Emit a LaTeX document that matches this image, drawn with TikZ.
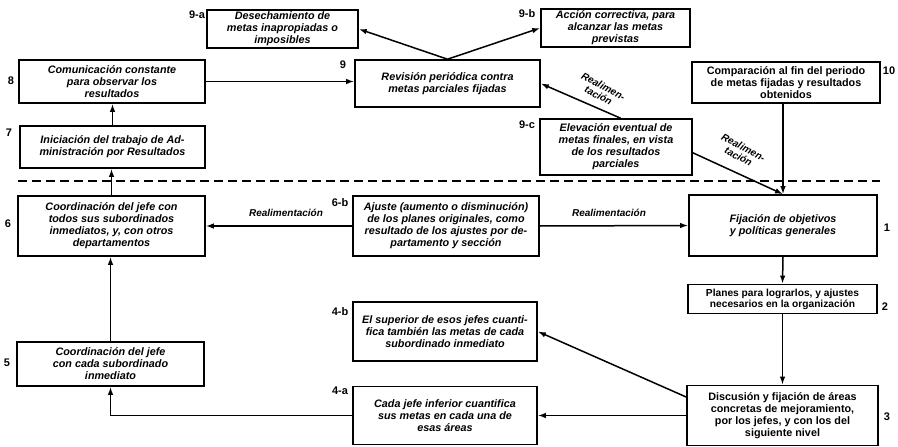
\documentclass[tikz,border=0pt]{standalone}
\usepackage{fontspec}
\setmainfont{Liberation Sans}
\usetikzlibrary{arrows.meta,calc}

\begin{document}
\begin{tikzpicture}[x=1pt,y=-1pt,
  box/.style={draw, line width=1.6pt, inner sep=1pt, align=center,
    font=\fontsize{10.8}{12}\selectfont\bfseries\itshape},
  uprbox/.style={box, font=\fontsize{10.8}{12}\selectfont\bfseries},
  num/.style={font=\fontsize{11}{12}\selectfont\bfseries, inner sep=0pt},
  conn/.style={line width=1.5pt},
  arr/.style={conn, -{Latex[length=8pt,width=5.5pt]}},
  fb/.style={font=\fontsize{10}{10.5}\selectfont\bfseries\itshape, inner sep=1pt, align=center}]

\useasboundingbox (0,0) rectangle (898,447);

% upper zone: follow-up stages
\node[box, minimum width=151pt, minimum height=38pt] (n9a) at (282.5,29)
  {Desechamiento de\\metas inapropiadas o\\imposibles};
\node[box, minimum width=149pt, minimum height=38pt] (n9b) at (615.5,28)
  {Acción correctiva, para\\alcanzar las metas\\previstas};
\node[box, minimum width=186pt, minimum height=43pt] (n8) at (112,81.5)
  {Comunicación constante\\para observar los\\resultados};
\node[box, minimum width=185pt, minimum height=47pt] (n9) at (447.5,83.5)
  {Revisión periódica contra\\metas parciales fijadas};
\node[uprbox, minimum width=188pt, minimum height=41pt] (n10) at (786,82.5)
  {Comparación al fin del periodo\\de metas fijadas y resultados\\obtenidos};
\node[box, minimum width=185pt, minimum height=42pt] (n7) at (112.5,147)
  {Iniciación del trabajo de Ad-\\ministración por Resultados};
\node[box, minimum width=152pt, minimum height=56pt] (n9c) at (616,147)
  {Elevación eventual de\\metas finales, en vista\\de los resultados\\parciales};

% lower zone: planning stages
\node[box, minimum width=187pt, minimum height=60pt] (n6) at (111.5,226)
  {Coordinación del jefe con\\todos sus subordinados\\inmediatos, y, con otros\\departamentos};
\node[box, minimum width=186pt, minimum height=60pt] (n6b) at (446,226)
  {Ajuste (aumento o disminución)\\de los planes originales, como\\resultado de los ajustes por de-\\partamento y sección};
\node[box, minimum width=188pt, minimum height=61pt] (n1) at (783,225.5)
  {Fijación de objetivos\\y políticas generales};
\node[uprbox, minimum width=189pt, minimum height=29pt, inner sep=0pt,
  font=\fontsize{10.2}{10.8}\selectfont\bfseries] (n2) at (782.5,299)
  {Planes para lograrlos, y ajustes\\necesarios en la organización};
\node[box, minimum width=184pt, minimum height=59pt] (n4b) at (445,331.5)
  {El superior de esos jefes cuanti-\\fica también las metas de cada\\subordinado inmediato};
\node[box, minimum width=184pt, minimum height=58pt] (n4a) at (445,415.5)
  {Cada jefe inferior cuantifica\\sus metas en cada una de\\esas áreas};
\node[box, minimum width=187pt, minimum height=44pt] (n5) at (110.5,364)
  {Coordinación del jefe\\con cada subordinado\\inmediato};
\node[uprbox, minimum width=191pt, minimum height=60pt] (n3) at (782.5,415.5)
  {Discusión y fijación de áreas\\concretas de mejoramiento,\\por los jefes, y con los del\\siguiente nivel};

% stage numbers
\node[num] (l9a) at (197,15) {9-a};
\node[num] (l9b) at (527,14) {9-b};
\node[num] (l8) at (11,81) {8};
\node[num] (l9) at (343,65) {9};
\node[num] (l10) at (889,71) {10};
\node[num] (l7) at (9,133) {7};
\node[num] (l9c) at (527,125) {9-c};
\node[num] (l6) at (8,224) {6};
\node[num] (l6b) at (340,203) {6-b};
\node[num] (l1) at (887,228) {1};
\node[num] (l2) at (885,307) {2};
\node[num] (l4b) at (340,312) {4-b};
\node[num] (l4a) at (340,391) {4-a};
\node[num] (l5) at (7,363) {5};
\node[num] (l3) at (887,417) {3};

% boundary between planning and follow-up
\coordinate (dl) at (18,181);
\coordinate (dr) at (880,181);
\draw[line width=1.5pt, dash pattern=on 9pt off 5pt] (dl) -- (dr);

% main flow
\draw[arr] (n1.north |- n10.south) -- (n1.north);
\draw[arr] (n1.south) -- (n2.north);
\draw[arr] (n2.south) -- (n3.north);
\draw[arr] (n3.west) -- (n4a.east);
\draw[arr] ($(n3.north west)!0.2!(n3.south west)$) -- (n4b.east);
\draw[arr] (n4a.west) -| (n5.south);
\draw[arr] (n5.north) -- (n5.north |- n6.south);
\draw[arr] (n6.north) -- (n6.north |- n7.south);
\draw[arr] (n7.north) -- (n7.north |- n8.south);
\draw[arr] (n8.east) -- (n8.east -| n9.west);
\draw[arr] (n9.north) -- (n9a.east);
\draw[arr] (n9.north) -- (n9b.west);

% feedback paths
\draw[arr] (n6b.west) -- (n6.east);
\draw[arr] (n6b.east) -- (n1.west);
\draw[arr] ($(n9c.north west)!0.53!(n9c.north east)$) -- (n9.east);
\draw[arr] ($(n9c.north east)!0.6!(n9c.south east)$) -- (n1.north);

\node[fb] (fbl) at (286,213) {Realimentación};
\node[fb] (fbr) at (609,213) {Realimentación};
\node[fb, rotate=-28] (fb9) at (601,91) {Realimen-\\tación};
\node[fb, rotate=-28] (fb1) at (741,152) {Realimen-\\tación};
\end{tikzpicture}
\end{document}
